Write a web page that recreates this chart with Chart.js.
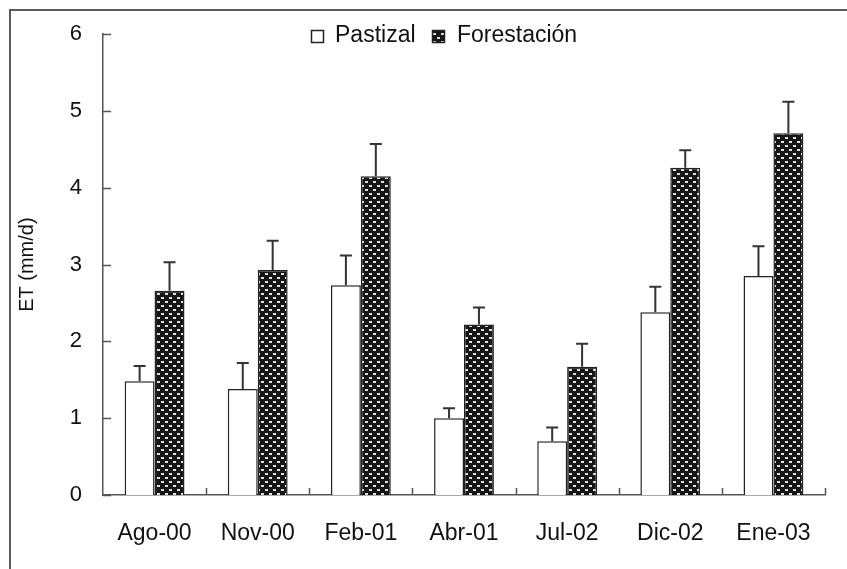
<!DOCTYPE html>
<html>
<head>
<meta charset="utf-8">
<script src="https://cdn.jsdelivr.net/npm/chart.js@4.4.0/dist/chart.umd.min.js"></script>
<style>
  body { margin: 0; background: #fff; }
  #wrap { position: relative; width: 847px; height: 569px; overflow: hidden; }
  #frame { position: absolute; left: 9px; top: 9px; width: 900px; height: 600px;
           border-top: 2px solid #5a5a5a; border-left: 2px solid #5a5a5a; }
  #chart { position: absolute; left: 0; top: 0; }
</style>
</head>
<body>
<div id="wrap">
  <div id="frame"></div>
  <canvas id="chart" width="847" height="569"></canvas>
</div>
<script>
const categories = ["Ago-00", "Nov-00", "Feb-01", "Abr-01", "Jul-02", "Dic-02", "Ene-03"];
const pastizal = [1.48, 1.38, 2.73, 1.00, 0.70, 2.38, 2.85];
const pastizal_err = [0.20, 0.34, 0.39, 0.13, 0.18, 0.33, 0.39];
const forestacion = [2.66, 2.93, 4.15, 2.22, 1.67, 4.26, 4.71];
const forestacion_err = [0.37, 0.38, 0.42, 0.22, 0.30, 0.23, 0.41];
const y_ticks = [0, 1, 2, 3, 4, 5, 6];

const FONT = "'Liberation Sans', Arial, sans-serif";
const AXIS_COLOR = '#555';

function makePattern(){
    const c = document.createElement('canvas');
    c.width = 8; c.height = 8;
    const g = c.getContext('2d');
    g.fillStyle = '#161616';
    g.fillRect(0, 0, 8, 8);
    g.fillStyle = '#dcdcdc';
    g.fillRect(1, 1, 3, 2);
    g.fillRect(5, 5, 3, 2);
    return g.createPattern(c, 'repeat');
}
const checker = makePattern();

// error bars (upper side only)
const errorBars = {
    id: 'errorBars',
    afterDatasetsDraw(chart){
        const ctx = chart.ctx;
        const y = chart.scales.y;
        const errs = [pastizal_err, forestacion_err];
        ctx.save();
        ctx.strokeStyle = '#333';
        ctx.lineWidth = 2;
        chart.data.datasets.forEach((ds, di) => {
            const meta = chart.getDatasetMeta(di);
            meta.data.forEach((bar, i) => {
                const top = y.getPixelForValue(ds.data[i] + errs[di][i]);
                ctx.beginPath();
                ctx.moveTo(bar.x, bar.y);
                ctx.lineTo(bar.x, top);
                ctx.moveTo(bar.x - 6, top);
                ctx.lineTo(bar.x + 6, top);
                ctx.stroke();
            });
        });
        ctx.restore();
    }
};

// inward tick marks + legend
const extras = {
    id: 'extras',
    afterDraw(chart){
        const ctx = chart.ctx;
        const area = chart.chartArea;
        const x = chart.scales.x;
        const y = chart.scales.y;
        ctx.save();
        ctx.strokeStyle = AXIS_COLOR;
        ctx.lineWidth = 1.5;
        ctx.beginPath();
        y_ticks.forEach(v => {
            const py = Math.round(y.getPixelForValue(v)) + 0.5;
            ctx.moveTo(area.left, py);
            ctx.lineTo(area.left + 8, py);
        });
        const half = (x.getPixelForValue(1) - x.getPixelForValue(0)) / 2;
        categories.forEach((c, i) => {
            const px = Math.round(x.getPixelForValue(i) + half) + 0.5;
            ctx.moveTo(px, area.bottom);
            ctx.lineTo(px, area.bottom - 7);
        });
        ctx.stroke();

        // legend
        ctx.font = '23px ' + FONT;
        ctx.textBaseline = 'middle';
        const ly = 36;
        ctx.lineWidth = 1.5;
        ctx.strokeStyle = '#222';
        ctx.fillStyle = '#fff';
        ctx.fillRect(311, ly - 6, 12, 12);
        ctx.strokeRect(311.5, ly - 5.5, 12, 12);
        ctx.fillStyle = '#111';
        ctx.fillText('Pastizal', 335, ly);
        ctx.fillStyle = checker;
        ctx.fillRect(432, ly - 6, 12, 12);
        ctx.strokeRect(432.5, ly - 5.5, 12, 12);
        ctx.fillStyle = '#111';
        ctx.fillText('Forestación', 457, ly);
        ctx.restore();
    }
};

new Chart(document.getElementById('chart'), {
    type: 'bar',
    data: {
        labels: categories,
        datasets: [
            { label: 'Pastizal', data: pastizal, backgroundColor: '#fff',
              borderColor: '#222', borderWidth: 1.5 },
            { label: 'Forestación', data: forestacion, backgroundColor: checker,
              borderColor: '#222', borderWidth: 1.5 }
        ]
    },
    options: {
        responsive: false,
        animation: false,
        devicePixelRatio: 1,
        layout: { padding: { left: 0, top: 28, right: 22, bottom: 0 } },
        categoryPercentage: 0.58,
        barPercentage: 1.0,
        plugins: { legend: { display: false }, tooltip: { enabled: false } },
        scales: {
            x: {
                grid: { display: false, drawTicks: false },
                border: { color: AXIS_COLOR, width: 1.5 },
                ticks: { color: '#111', padding: 25, font: { family: FONT, size: 23 } },
                afterFit(scale){ scale.height = 74; }
            },
            y: {
                min: 0, max: 6,
                grid: { display: false, drawTicks: false },
                border: { color: AXIS_COLOR, width: 1.5 },
                ticks: { stepSize: 1, color: '#111', padding: 21, font: { family: FONT, size: 22 } },
                title: { display: true, text: 'ET (mm/d)', color: '#111',
                         font: { family: FONT, size: 20 }, padding: { top: 15, bottom: 0 } },
                afterFit(scale){ scale.width = 103; }
            }
        }
    },
    plugins: [errorBars, extras]
});
</script>
</body>
</html>
